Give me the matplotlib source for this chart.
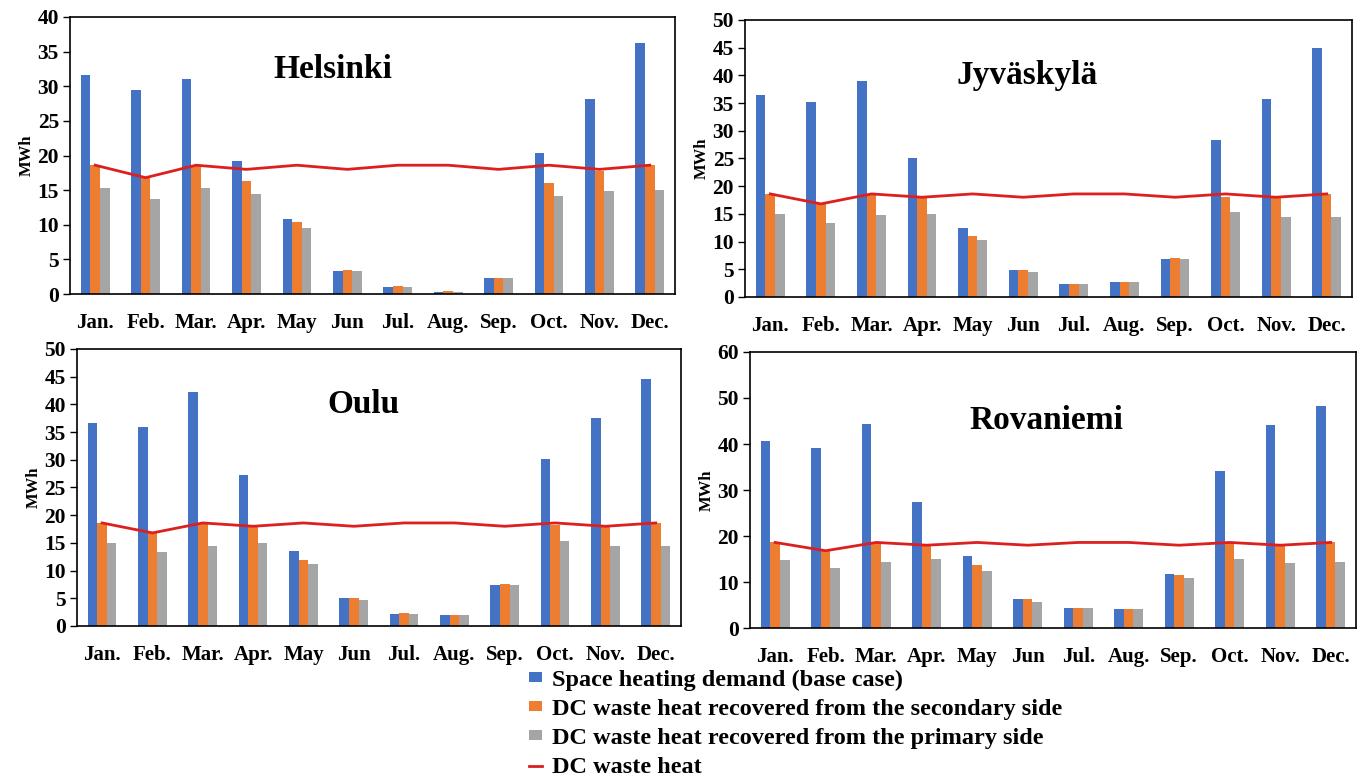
import matplotlib.pyplot as plt
import numpy as np

plt.rcParams['font.family'] = ['Liberation Serif', 'DejaVu Serif']
plt.rcParams['font.weight'] = 'bold'

months = ['Jan.', 'Feb.', 'Mar.', 'Apr.', 'May', 'Jun', 'Jul.', 'Aug.', 'Sep.', 'Oct.', 'Nov.', 'Dec.']

# DC waste heat available each month (same data centre for every city)
waste_heat = [18.6, 16.8, 18.6, 18.0, 18.6, 18.0, 18.6, 18.6, 18.0, 18.6, 18.0, 18.6]

hel_demand = [31.6, 29.5, 31.0, 19.2, 10.8, 3.3, 1.0, 0.35, 2.3, 20.3, 28.1, 36.2]
hel_second = [18.6, 16.8, 18.6, 16.3, 10.4, 3.5, 1.15, 0.4, 2.3, 16.1, 17.7, 18.6]
hel_primary = [15.3, 13.7, 15.3, 14.5, 9.6, 3.3, 1.0, 0.35, 2.3, 14.2, 14.9, 14.95]

jyv_demand = [36.5, 35.2, 38.9, 25.1, 12.4, 4.9, 2.4, 2.7, 6.9, 28.3, 35.8, 44.9]
jyv_second = [18.6, 16.8, 18.6, 17.9, 11.0, 4.8, 2.4, 2.7, 7.0, 18.0, 18.0, 18.6]
jyv_primary = [15.0, 13.3, 14.8, 15.0, 10.2, 4.5, 2.4, 2.7, 6.9, 15.3, 14.4, 14.4]

oul_demand = [36.7, 36.0, 42.3, 27.2, 13.6, 5.0, 2.2, 2.0, 7.4, 30.2, 37.5, 44.6]
oul_second = [18.5, 16.8, 18.6, 18.0, 12.0, 5.0, 2.35, 2.0, 7.5, 18.2, 18.0, 18.6]
oul_primary = [15.0, 13.3, 14.5, 15.0, 11.2, 4.7, 2.2, 2.0, 7.4, 15.3, 14.4, 14.5]

rov_demand = [40.7, 39.2, 44.3, 27.5, 15.6, 6.3, 4.3, 4.2, 11.75, 34.2, 44.1, 48.2]
rov_second = [18.6, 16.8, 18.6, 18.0, 13.6, 6.2, 4.3, 4.2, 11.5, 18.6, 18.0, 18.6]
rov_primary = [14.8, 13.1, 14.4, 14.9, 12.3, 5.7, 4.3, 4.2, 10.8, 15.1, 14.1, 14.3]

blue = '#4472C4'
orange = '#ED7D31'
gray = '#A5A5A5'
red = '#DC1F1F'

fig = plt.figure(figsize=(13.67, 7.76), dpi=100)

panels = [
    ('Helsinki', hel_demand, hel_second, hel_primary, 40, 5,
     [0.0512, 0.6211, 0.4426, 0.357], (0.435, 0.81)),
    ('Jyväskylä', jyv_demand, jyv_second, jyv_primary, 50, 5,
     [0.545, 0.6173, 0.444, 0.357], (0.465, 0.80)),
    ('Oulu', oul_demand, oul_second, oul_primary, 50, 5,
     [0.0563, 0.1933, 0.4418, 0.357], (0.475, 0.80)),
    ('Rovaniemi', rov_demand, rov_second, rov_primary, 60, 10,
     [0.5486, 0.1907, 0.4433, 0.3557], (0.49, 0.75)),
]

x = np.arange(len(months))
w = 0.19
for name, dem, sec, pri, ymax, step, rect, tpos in panels:
    ax = fig.add_axes(rect)
    ax.bar(x - w, dem, w, color=blue, label='Space heating demand (base case)')
    ax.bar(x, sec, w, color=orange, label='DC waste heat recovered from the secondary side')
    ax.bar(x + w, pri, w, color=gray, label='DC waste heat recovered from the primary side')
    ax.plot(x, waste_heat, color=red, lw=2, label='DC waste heat')
    ax.set_xlim(-0.5, 11.5)
    ax.set_ylim(0, ymax)
    ax.set_yticks(np.arange(0, ymax + 0.1, step))
    ax.set_xticks(x)
    ax.set_xticklabels(months)
    ax.tick_params(axis='x', length=0, pad=14, labelsize=15)
    ax.tick_params(axis='y', length=5, width=1, labelsize=15.5, pad=3)
    for s in ax.spines.values():
        s.set_linewidth(1.2)
    ax.set_ylabel('MWh', fontsize=12, fontweight='bold', labelpad=2)
    ax.text(tpos[0], tpos[1], name, transform=ax.transAxes, ha='center', va='center',
            fontsize=24, fontweight='bold')

handles, labels = ax.get_legend_handles_labels()
order = [1, 2, 3, 0]
fig.legend([handles[i] for i in order], [labels[i] for i in order],
           loc='upper left', bbox_to_anchor=(0.387, 0.137), frameon=False,
           fontsize=17.5, handlelength=0.55, handleheight=0.25, handletextpad=0.4,
           labelspacing=0.33, borderaxespad=0, borderpad=0)

fig.savefig('out.png', dpi=100)
